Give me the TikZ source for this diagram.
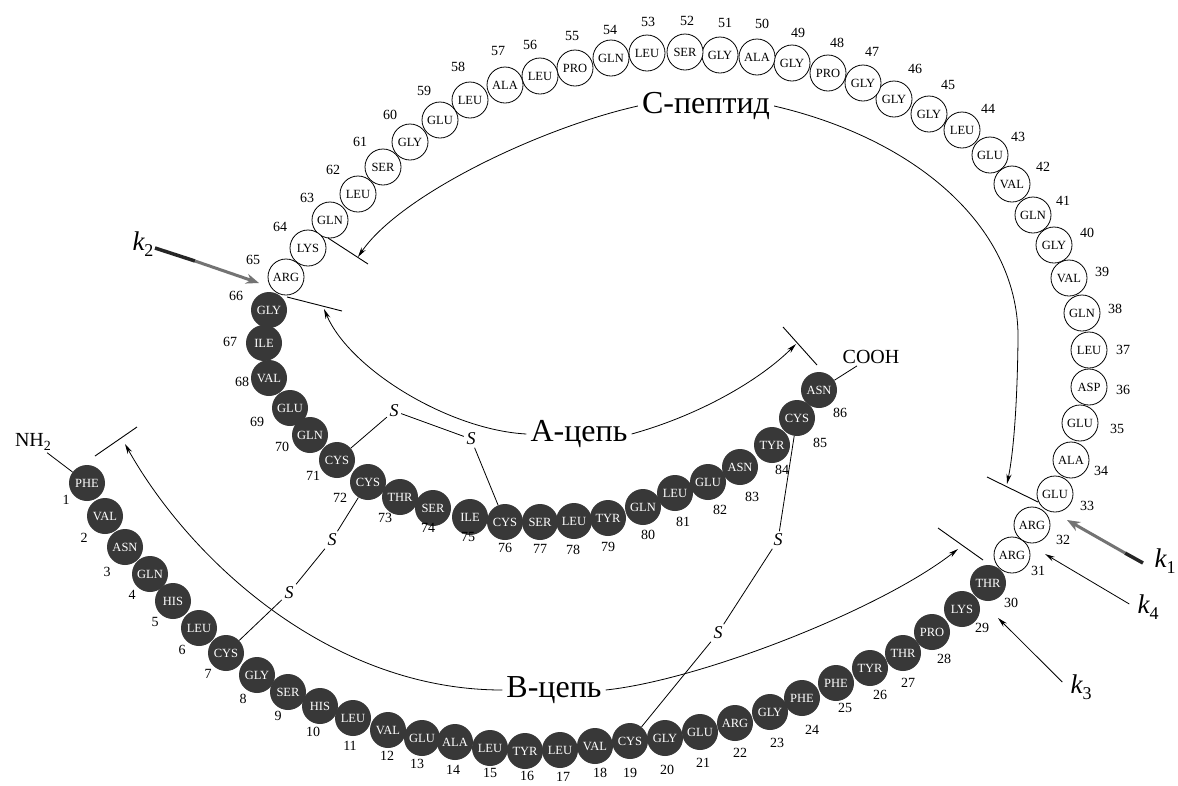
\documentclass[tikz,border=0pt]{standalone}
\usepackage{fontspec}
\setmainfont{Liberation Serif}
\usetikzlibrary{arrows.meta}
\begin{document}
\begin{tikzpicture}[x=1pt,y=-1pt,
  res/.style={circle,minimum size=36pt,inner sep=0pt,font=\fontsize{12.5}{12.5}\selectfont},
  dres/.style={res,fill=black!78,text=white},
  wres/.style={res,draw=black,line width=0.8pt,fill=white},
  num/.style={font=\fontsize{14}{14}\selectfont,inner sep=0pt},
  ss/.style={font=\fontsize{18}{18}\selectfont\itshape,inner sep=2.5pt},
  lbl/.style={font=\fontsize{32}{32}\selectfont,inner sep=4pt},
  grp/.style={font=\fontsize{20}{20}\selectfont,inner sep=2pt},
  klbl/.style={font=\fontsize{27}{27}\selectfont,inner sep=0pt},
  conn/.style={line width=0.8pt},
  arr/.style={line width=0.8pt,-{Stealth[length=10pt,width=5pt]}},
  cutm/.style={line width=0.9pt}]

\fill[white] (0,0) rectangle (1178,785);
\useasboundingbox (0,0) rectangle (1178,785);

% B-chain
\foreach \n/\x/\y/\t in {1/87/483/PHE, 2/105/516/VAL, 3/125/547/ASN, 4/150/574/GLN, 5/173/601/HIS, 6/199/628/LEU, 7/226/653/CYS, 8/257/675/GLY, 9/288/692/SER, 10/320/706/HIS, 11/353/718/LEU, 12/388/730/VAL, 13/422/738/GLU, 14/455/742/ALA, 15/490/748/LEU, 16/525/751/TYR, 17/560/750/LEU, 18/595/746/VAL, 19/630/741/CYS, 20/665/738/GLY, 21/700/732/GLU, 22/735/723/ARG, 23/770/712/GLY, 24/802/698/PHE, 25/836/683/PHE, 26/870/668/TYR, 27/903/653/THR, 28/932/632/PRO, 29/962/609/LYS, 30/988/583/THR}
  {\node[dres] (r\n) at (\x,\y) {\t};}

% A-chain
\foreach \n/\x/\y/\t in {66/269/310/GLY, 67/264/343/ILE, 68/269/378/VAL, 69/290/408/GLU, 70/310/435/GLN, 71/337/460/CYS, 72/368/482/CYS, 73/400/497/THR, 74/433/508/SER, 75/470/517/ILE, 76/505/522/CYS, 77/540/522/SER, 78/574/521/LEU, 79/608/518/TYR, 80/643/507/GLN, 81/675/493/LEU, 82/708/482/GLU, 83/740/467/ASN, 84/772/445/TYR, 85/797/418/CYS, 86/819/390/ASN}
  {\node[dres] (r\n) at (\x,\y) {\t};}

% C-peptide
\foreach \n/\x/\y/\t in {31/1012/555/ARG, 32/1032/525/ARG, 33/1055/494/GLU, 34/1071/460/ALA, 35/1080/423/GLU, 36/1089/387/ASP, 37/1089/350/LEU, 38/1082/313/GLN, 39/1069/278/VAL, 40/1054/245/GLY, 41/1033/215/GLN, 42/1012/184/VAL, 43/990/155/GLU, 44/962/130/LEU, 45/929/114/GLY, 46/894/99/GLY, 47/863/83/GLY, 48/828/73/PRO, 49/792/63/GLY, 50/757/57/ALA, 51/720/55/GLY, 52/685/52/SER, 53/647/53/LEU, 54/611/58/GLN, 55/575/68/PRO, 56/540/76/LEU, 57/505/85/ALA, 58/470/100/LEU, 59/440/120/GLU, 60/410/142/GLY, 61/383/167/SER, 62/358/194/LEU, 63/330/220/GLN, 64/308/248/LYS, 65/286/277/ARG}
  {\node[wres] (r\n) at (\x,\y) {\t};}

% residue numbers
\foreach \n/\x/\y in {1/66/500, 2/84/538, 3/107/572, 4/132/595, 5/155/622, 6/182/650, 7/208/674, 8/243/699, 9/278/716, 10/313/732, 11/350/746, 12/387/756, 13/417/764, 14/453/770, 15/490/773, 16/527/776, 17/563/777, 18/600/773, 19/630/773, 20/667/770, 21/703/763, 22/740/753, 23/777/743, 24/812/730, 25/845/708, 26/880/695, 27/908/683, 28/944/659, 29/982/628, 30/1011/603, 31/1038/571, 32/1063/540, 33/1087/506, 34/1101/471, 35/1117/429, 36/1123/390, 37/1123/350, 38/1115/309, 39/1102/272, 40/1087/233, 41/1063/201, 42/1043/167, 43/1018/137, 44/988/109, 45/948/85, 46/915/69, 47/872/52, 48/837/43, 49/798/33, 50/762/24, 51/725/23, 52/687/21, 53/648/22, 54/610/30, 55/572/36, 56/530/45, 57/498/51, 58/458/67, 59/424/91, 60/390/115, 61/360/142, 62/333/170, 63/307/198, 64/280/227, 65/253/260, 66/236/296, 67/230/342, 68/242/382, 69/257/422, 70/282/447, 71/313/476, 72/340/498, 73/385/518, 74/428/528, 75/468/537, 76/505/548, 77/540/549, 78/573/550, 79/608/547, 80/648/535, 81/683/522, 82/720/510, 83/752/497, 84/782/470, 85/820/443, 86/840/413}
  {\node[num] (n\n) at (\x,\y) {\n};}

% end groups
\node[grp] (nh2) at (33,442) {NH\raisebox{-4pt}{\fontsize{14}{14}\selectfont 2}};
\node[grp] (cooh) at (871,357) {COOH};
\draw[conn] (nh2) -- (r1);
\draw[conn] (r86) -- (cooh);

% chain labels
\node[lbl] (cpep) at (706,106) {С-пептид};
\node[lbl] (achain) at (579,434) {А-цепь};
\node[lbl] (bchain) at (554,690) {В-цепь};

% cut marks
\coordinate (cb1a) at (95,456);  \coordinate (cb1b) at (137,427);
\coordinate (cc1a) at (328,238); \coordinate (cc1b) at (368,264);
\coordinate (ca1a) at (287,297); \coordinate (ca1b) at (342,311);
\coordinate (ca2a) at (783,327); \coordinate (ca2b) at (817,365);
\coordinate (cc2a) at (987,477); \coordinate (cc2b) at (1038,502);
\coordinate (cb2a) at (938,528); \coordinate (cb2b) at (983,560);
\foreach \c in {cb1,cc1,ca1,ca2,cc2,cb2} {\draw[cutm] (\c a) -- (\c b);}

% arrow ends
\coordinate (eb1) at (125,444);
\coordinate (ec1) at (358,257);
\coordinate (ea1) at (324,309);
\coordinate (ea2) at (796,344);
\coordinate (ec2) at (1007,484);
\coordinate (eb2) at (958,549);

\draw[arr] (cpep.west) .. controls (540,128) and (400,195) .. (ec1);
\draw[arr] (cpep.east) .. controls (920,140) and (1020,230) .. (1018,340) .. controls (1017,420) and (1012,460) .. (ec2);
\draw[arr] (achain.west) .. controls (450,430) and (350,370) .. (ea1);
\draw[arr] (achain.east) .. controls (700,415) and (760,380) .. (ea2);
\draw[arr] (bchain.west) .. controls (330,690) and (190,560) .. (eb1);
\draw[arr] (bchain.east) .. controls (700,680) and (880,610) .. (eb2);

% disulfide bridges
\node[ss] (s1) at (394,411) {S};
\node[ss] (s2) at (471,439) {S};
\node[ss] (s3) at (332,540) {S};
\node[ss] (s4) at (289,593) {S};
\node[ss] (s5) at (778,540) {S};
\node[ss] (s6) at (718,633) {S};
\draw[conn] (r71) -- (s1); \draw[conn] (s1) -- (s2); \draw[conn] (s2) -- (r76);
\draw[conn] (r72) -- (s3); \draw[conn] (s3) -- (s4); \draw[conn] (s4) -- (r7);
\draw[conn] (r85) -- (s5); \draw[conn] (s5) -- (s6); \draw[conn] (s6) -- (r19);

% enzymes
\node[klbl] (k2) at (143,244) {\itshape k\raisebox{-6pt}{\fontsize{18}{18}\selectfont\upshape 2}};
\node[klbl] (k1) at (1165,561) {\itshape k\raisebox{-6pt}{\fontsize{18}{18}\selectfont\upshape 1}};
\node[klbl] (k4) at (1148,607) {\itshape k\raisebox{-6pt}{\fontsize{18}{18}\selectfont\upshape 4}};
\node[klbl] (k3) at (1081,687) {\itshape k\raisebox{-6pt}{\fontsize{18}{18}\selectfont\upshape 3}};

\coordinate (k2s) at (155,248); \coordinate (k2m) at (195,261); \coordinate (k2e) at (259,283);
\draw[line width=3.5pt,black!85] (k2s) -- (k2m);
\draw[line width=3pt,black!55,-{Stealth[length=13pt,width=10pt]}] (k2m) -- (k2e);

\coordinate (k1s) at (1143,563); \coordinate (k1m) at (1125,553); \coordinate (k1e) at (1067,520);
\draw[line width=3.5pt,black!85] (k1s) -- (k1m);
\draw[line width=3pt,black!55,-{Stealth[length=13pt,width=10pt]}] (k1m) -- (k1e);

\draw[arr] (k4.west) ++(-8,-3) coordinate (k4s) (k4s) -- (1045,554);
\draw[arr] (k3.west) ++(-8,-5) coordinate (k3s) (k3s) -- (998,618);

\end{tikzpicture}
\end{document}
